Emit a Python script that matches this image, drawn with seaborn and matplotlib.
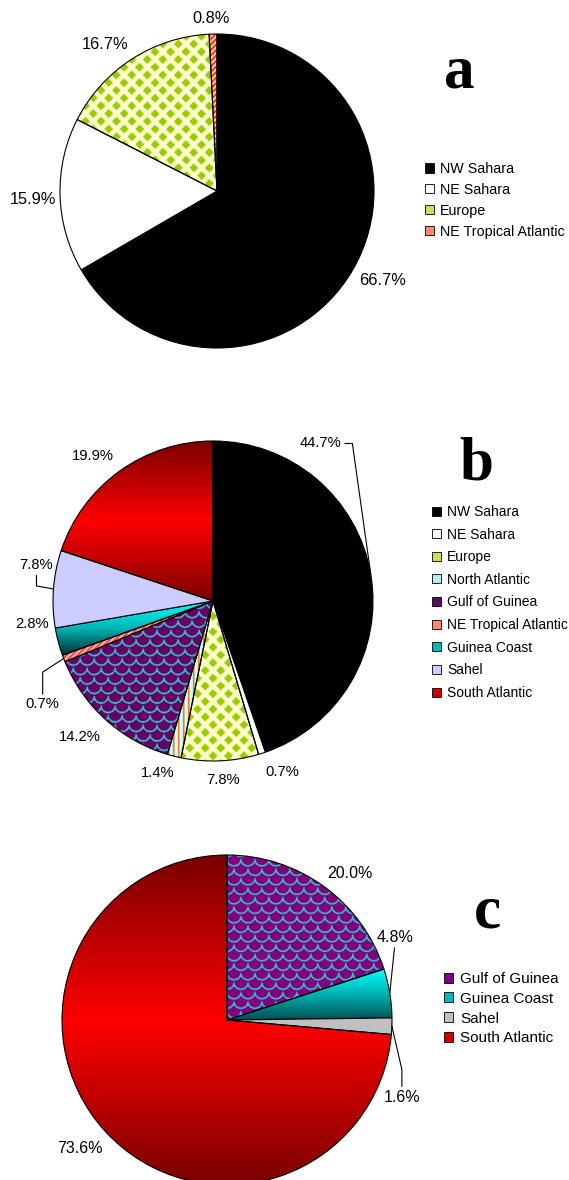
import numpy as np
import matplotlib
matplotlib.use('Agg')
import matplotlib.pyplot as plt
from matplotlib.colors import LinearSegmentedColormap, to_rgb
from matplotlib.patches import Patch
import seaborn as sns

# ---- data (percent of cases per source region) ----
a_regions = ['NW Sahara', 'NE Sahara', 'Europe', 'NE Tropical Atlantic']
a_share = [66.7, 15.9, 16.7, 0.8]

b_regions = ['NW Sahara', 'NE Sahara', 'Europe', 'North Atlantic', 'Gulf of Guinea',
             'NE Tropical Atlantic', 'Guinea Coast', 'Sahel', 'South Atlantic']
b_share = [44.7, 0.7, 7.8, 1.4, 14.2, 0.7, 2.8, 7.8, 19.9]

c_regions = ['Gulf of Guinea', 'Guinea Coast', 'Sahel', 'South Atlantic']
c_share = [20.0, 4.8, 1.6, 73.6]

sns.set_theme(style='white')
plt.rcParams['font.family'] = ['Liberation Sans', 'DejaVu Sans']
plt.rcParams['text.color'] = 'black'

W, H = 569, 1180
fig = plt.figure(figsize=(W / 100, H / 100), dpi=100)

# fill styles per region
fills_a = {'NW Sahara': ('solid', 'black'), 'NE Sahara': ('solid', 'white'),
           'Europe': ('diamonds', '#FFFFCC', '#99CC00'),
           'NE Tropical Atlantic': ('stripes', '#FFCC99', '#FF0000')}
fills_b = {'NW Sahara': ('solid', 'black'), 'NE Sahara': ('solid', 'white'),
           'Europe': ('diamonds', '#FFFFCC', '#99CC00'),
           'North Atlantic': ('vstripes', '#CCFFFF', '#FF6600'),
           'Gulf of Guinea': ('scales', '#660066', '#33CCCC'),
           'NE Tropical Atlantic': ('stripes', '#FFB0B0', '#FF2020'),
           'Guinea Coast': ('grad', ['#00FFFF', '#00B5B5', '#003030']),
           'Sahel': ('solid', '#CCCCFF'),
           'South Atlantic': ('grad', ['#7A0000', '#FF0000', '#7A0000'])}
fills_c = {'Gulf of Guinea': ('scales', '#800080', '#33CCCC'),
           'Guinea Coast': ('grad', ['#00FFFF', '#00B0B0', '#005050']),
           'Sahel': ('solid', '#C0C0C0'),
           'South Atlantic': ('grad', ['#7A0000', '#FF0000', '#7A0000'])}

swatch = {'NW Sahara': 'black', 'NE Sahara': 'white', 'Europe': '#C8E05A',
          'North Atlantic': '#B8EEF0', 'Gulf of Guinea': '#5A0A6A',
          'NE Tropical Atlantic': '#FF8870', 'Guinea Coast': '#00B8B8',
          'Sahel': '#CCCCFF', 'South Atlantic': '#D00000'}
swatch_c = dict(swatch, **{'Gulf of Guinea': '#800080', 'Sahel': '#C0C0C0'})

# label offsets from the slice edge (pixels, right / down)
off_a = {'NW Sahara': (30, 11), 'NE Sahara': (-27, 4), 'Europe': (-27, -15),
         'NE Tropical Atlantic': (-2, -16)}
off_b = {'NW Sahara': (-50, -131), 'NE Sahara': (20, 19), 'Europe': (3, 19),
         'North Atlantic': (-16, 17), 'Gulf of Guinea': (-26, 17),
         'NE Tropical Atlantic': (-21, 46), 'Guinea Coast': (-26, -18),
         'Sahel': (-17, -24), 'South Atlantic': (-26, -15)}
off_c = {'Gulf of Guinea': (26, -13), 'Guinea Coast': (5, -56), 'Sahel': (10, 71),
         'South Atlantic': (-25, 17)}

lead_b = {'NW Sahara': ((1, 0.5), 'angle,angleA=0,angleB=98,rad=0'),
          'NE Tropical Atlantic': ((0.5, 1), 'angle,angleA=90,angleB=33,rad=0'),
          'Sahel': ((0.5, 0), 'angle,angleA=90,angleB=170,rad=0')}
lead_c = {'Guinea Coast': ((0.5, 0), 'arc3,rad=0'),
          'Sahel': ((0.5, 1), 'angle,angleA=90,angleB=103,rad=0')}


def texture(spec, X, Y):
    kind = spec[0]
    bg = np.array(to_rgb(spec[1]))
    fg = np.array(to_rgb(spec[2]))
    if kind == 'diamonds':
        p = 15.5
        d = np.abs(np.mod(X, p) - p / 2) + np.abs(np.mod(Y, p) - p / 2)
        m = np.minimum(d, p - d) < 0.29 * p
    elif kind == 'stripes':
        m = np.mod(X - Y, 5.5) < 2.2
    elif kind == 'vstripes':
        m = np.mod(X, 5.0) < 1.4
    else:  # fish-scale arcs
        w, h, rad = 14.0, 9.5, 7.2
        m = np.zeros(X.shape, bool)
        j0 = np.floor(Y / h)
        for jj in (j0, j0 + 1):
            cy = jj * h
            ofs = np.mod(jj, 2) * w / 2
            cx = np.round((X - ofs) / w) * w + ofs
            dist = np.hypot(X - cx, Y - cy)
            m |= (np.abs(dist - rad) < 0.8) & (Y <= cy)
    out = np.where(m[..., None], fg, bg)
    return out


def draw_pie(cx, cy, r, regions, share, fills, swatches, offsets, leaders,
             lab_size, leg_size, leg_xy, spacing, letter, letter_xy):
    ax = fig.add_axes([(cx - r) / W, 1 - (cy + r) / H, 2 * r / W, 2 * r / H])
    cols = [f[1] if f[0] == 'solid' else 'none' for f in (fills[k] for k in regions)]
    wedges, _ = ax.pie(share, startangle=90, counterclock=False, radius=1, colors=cols,
                       wedgeprops=dict(edgecolor='black', linewidth=0.8))
    n = int(4 * r)
    g = np.linspace(-1, 1, n)
    X, Y = np.meshgrid(g, g)
    for w, k in zip(wedges, regions):
        spec = fills[k]
        if spec[0] == 'solid':
            continue
        if spec[0] == 'grad':
            ext = w.get_path().get_extents()
            t = np.clip((ext.y1 - Y) / (ext.y1 - ext.y0), 0, 1)
            cmap = LinearSegmentedColormap.from_list(k, spec[1])
            rgb = cmap(t)[..., :3]
        else:
            rgb = texture(spec, X * r, Y * r)
        im = ax.imshow(rgb, extent=(-1, 1, -1, 1), origin='lower',
                       interpolation='bilinear', zorder=0.5)
        im.set_clip_path(w)
    ax.set_xlim(-1, 1)
    ax.set_ylim(-1, 1)
    ax.set_aspect('equal')
    ax.axis('off')

    for w, k, v in zip(wedges, regions, share):
        mid = np.deg2rad((w.theta1 + w.theta2) / 2)
        dx, dy = offsets[k]
        kw = {}
        if k in leaders:
            rel, cs = leaders[k]
            kw['arrowprops'] = dict(arrowstyle='-', color='black', lw=0.8, shrinkA=0,
                                    shrinkB=0, relpos=rel, connectionstyle=cs)
        ax.annotate(f'{v:.1f}%', xy=(np.cos(mid), np.sin(mid)), xytext=(dx, -dy),
                    textcoords='offset pixels', ha='center', va='center',
                    fontsize=lab_size, color='black', annotation_clip=False, **kw)

    handles = [Patch(facecolor=swatches[k], edgecolor='black', linewidth=0.6) for k in regions]
    fig.legend(handles, regions, loc='upper left',
               bbox_to_anchor=(leg_xy[0] / W, 1 - leg_xy[1] / H),
               frameon=False, fontsize=leg_size, handlelength=0.62, handleheight=0.62,
               handletextpad=0.45, labelspacing=spacing, borderpad=0, borderaxespad=0,
               labelcolor='black')
    fig.text(letter_xy[0] / W, 1 - letter_xy[1] / H, letter, ha='center', va='baseline',
             fontsize=44, fontweight='bold', family='Liberation Serif', color='black')


draw_pie(217, 191, 157, a_regions, a_share, fills_a, swatch, off_a, {},
         11.8, 10.3, (425, 162), 0.48, 'a', (459, 88))
draw_pie(213, 601, 160, b_regions, b_share, fills_b, swatch, off_b, lead_b,
         10.6, 10, (432, 505), 0.62, 'b', (476, 480))
draw_pie(227, 1020, 165, c_regions, c_share, fills_c, swatch_c, off_c, lead_c,
         11.5, 11, (444, 972), 0.38, 'c', (487, 927))

fig.savefig('out.png', dpi=100, facecolor='white')
